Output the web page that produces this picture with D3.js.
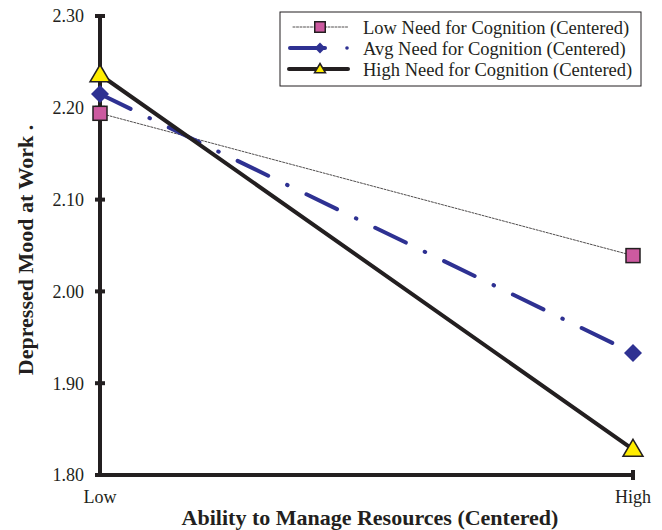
<!DOCTYPE html>
<html><head><meta charset="utf-8">
<script src="https://cdn.jsdelivr.net/npm/d3@7"></script>
<style>body{margin:0;background:#fff} svg text{font-family:"Liberation Serif","DejaVu Serif","Times New Roman",Times,serif;}</style>
</head><body>
<svg id="c" width="662" height="530"></svg>
<script>
const categories = ["Low", "High"];
const yTicks = [1.80, 1.90, 2.00, 2.10, 2.20, 2.30];
const seriesNames = ["Low Need for Cognition (Centered)", "Avg Need for Cognition (Centered)", "High Need for Cognition (Centered)"];
const lowNFC = [2.194, 2.039];
const avgNFC = [2.215, 1.933];
const highNFC = [2.236, 1.828];

const svg = d3.select("#c");
const ink = "#231f20";
const x = d3.scalePoint().domain(categories).range([100, 633]);
const y = d3.scaleLinear().domain([1.80, 2.30]).range([475, 16]);

// axes
svg.append("line").attr("x1", 100).attr("x2", 100).attr("y1", y(2.30)).attr("y2", y(1.80) + 2)
  .attr("stroke", ink).attr("stroke-width", 4);
svg.append("line").attr("x1", 98).attr("x2", x("High") + 2).attr("y1", y(1.80)).attr("y2", y(1.80))
  .attr("stroke", ink).attr("stroke-width", 4);
yTicks.forEach(t => {
  svg.append("line").attr("x1", 95).attr("x2", 105).attr("y1", y(t)).attr("y2", y(t)).attr("stroke", ink).attr("stroke-width", 4);
  svg.append("text").attr("x", 84).attr("y", y(t)).attr("dy", "0.36em").attr("text-anchor", "end")
    .attr("font-size", 18).attr("fill", ink).text(t.toFixed(2));
});
svg.append("line").attr("x1", x("High")).attr("x2", x("High")).attr("y1", y(1.80) - 5).attr("y2", y(1.80) + 5).attr("stroke", ink).attr("stroke-width", 4);
categories.forEach(c => {
  svg.append("text").attr("x", x(c)).attr("y", 503).attr("text-anchor", "middle")
    .attr("font-size", 18).attr("fill", ink).text(c);
});
svg.append("text").attr("x", 370).attr("y", 525).attr("text-anchor", "middle")
  .attr("font-size", 22).attr("font-weight", "bold").attr("fill", ink)
  .text("Ability to Manage Resources (Centered)");
svg.append("text").attr("transform", "translate(33,250) rotate(-90)").attr("text-anchor", "middle")
  .attr("font-size", 22).attr("font-weight", "bold").attr("fill", ink)
  .text("Depressed Mood at Work .");

const line = d3.line().x((d, i) => x(categories[i])).y(d => y(d));
const styles = [
  {data: lowNFC, stroke: ink, w: 0.8, dash: "2,1.5"},
  {data: avgNFC, stroke: "#2e3192", w: 4, dash: "34,21,0.5,21"},
  {data: highNFC, stroke: ink, w: 4, dash: null}
];
styles.forEach(s => {
  svg.append("path").attr("d", line(s.data)).attr("fill", "none").attr("stroke", s.stroke)
    .attr("stroke-width", s.w).attr("stroke-dasharray", s.dash).attr("stroke-linecap", "round");
});

function marker(g, type, cx, cy, scale) {
  scale = scale || 1;
  if (type === 0) {
    const s = 14 * scale;
    g.append("rect").attr("x", cx - s/2).attr("y", cy - s/2).attr("width", s).attr("height", s)
      .attr("fill", "#cc5aa0").attr("stroke", ink).attr("stroke-width", 1.5);
  } else if (type === 1) {
    const r = 9 * scale;
    g.append("path").attr("d", `M${cx},${cy-r}L${cx+r},${cy}L${cx},${cy+r}L${cx-r},${cy}Z`).attr("fill", "#2e3192");
  } else {
    const r = 10 * scale;
    g.append("path").attr("d", `M${cx},${cy-r}L${cx+r*1.0},${cy+r*0.7}L${cx-r*1.0},${cy+r*0.7}Z`)
      .attr("fill", "#ffed00").attr("stroke", ink).attr("stroke-width", 1.5);
  }
}
styles.forEach((s, k) => s.data.forEach((v, i) => marker(svg, k, x(categories[i]), y(v))));

// legend
const lg = svg.append("g");
lg.append("rect").attr("x", 280).attr("y", 12).attr("width", 361).attr("height", 74)
  .attr("fill", "#fff").attr("stroke", ink).attr("stroke-width", 1);
const ly = [27, 48, 69];
styles.forEach((s, k) => {
  if (k === 1) {
    lg.append("line").attr("x1", 290).attr("x2", 325).attr("y1", ly[k]).attr("y2", ly[k])
      .attr("stroke", s.stroke).attr("stroke-width", s.w).attr("stroke-linecap", "round");
    lg.append("circle").attr("cx", 347).attr("cy", ly[k]).attr("r", 1.8).attr("fill", s.stroke);
  } else {
    lg.append("line").attr("x1", k === 0 ? 293 : 289).attr("x2", 348).attr("y1", ly[k]).attr("y2", ly[k])
      .attr("stroke", s.stroke).attr("stroke-width", s.w).attr("stroke-dasharray", s.dash).attr("stroke-linecap", "round");
  }
  marker(lg, k, 320, ly[k], k === 0 ? 0.75 : (k === 1 ? 0.6 : 0.55));
  lg.append("text").attr("x", 363).attr("y", ly[k]).attr("dy", "0.4em")
    .attr("font-size", 18.5).attr("fill", ink).text(seriesNames[k]);
});
</script>
</body></html>
